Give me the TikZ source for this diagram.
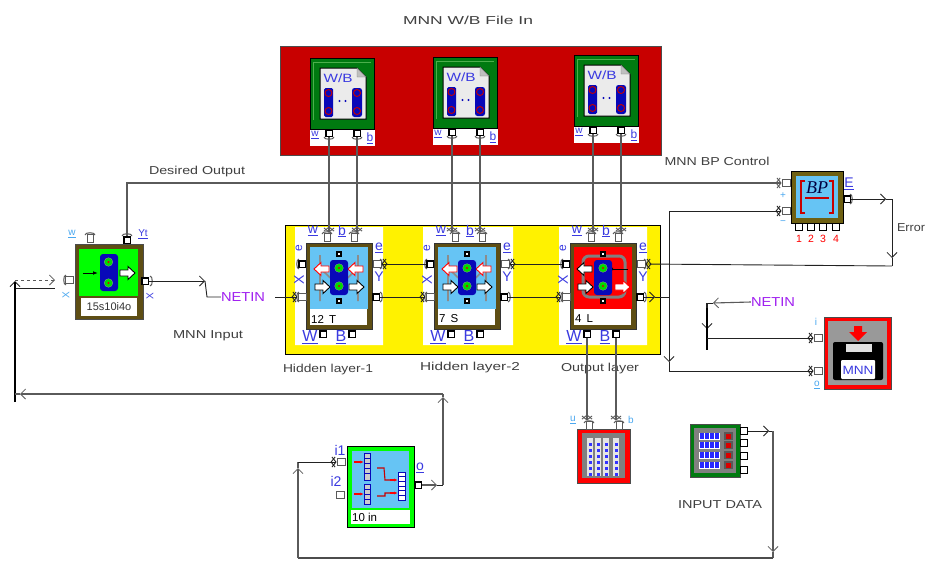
\documentclass[tikz,border=0pt]{standalone}
\usepackage{fontspec}
\setmainfont{Liberation Sans}
\newfontfamily\serifit[ItalicFont=Liberation Serif Italic]{Liberation Serif}
\usetikzlibrary{arrows.meta}
\definecolor{sky}{HTML}{66C4F4}
\definecolor{lab}{HTML}{3A3AE0}
\definecolor{labl}{HTML}{4AA8F0}
\definecolor{olive}{HTML}{5E4E14}
\definecolor{deepblue}{HTML}{0808B8}
\definecolor{crim}{HTML}{C80000}
\definecolor{dgreen}{HTML}{007A10}
\definecolor{wiregrey}{HTML}{5A5A5A}
\definecolor{ink}{HTML}{222222}
\definecolor{netin}{HTML}{A020F0}
\tikzset{
  oport/.style={draw=black,line width=1.5pt,fill=white,minimum size=6.5pt,inner sep=0pt},
  iport/.style={draw=wiregrey,line width=.9pt,fill=white,minimum width=8pt,minimum height=7pt,inner sep=0pt},
  itop/.style={draw=wiregrey,line width=.9pt,fill=white,minimum width=6pt,minimum height=8pt,inner sep=0pt},
  wire/.style={draw=ink,line width=.9pt},
  gwire/.style={draw=wiregrey,line width=1.2pt},
  barb/.style={-{Straight Barb[length=5pt,width=10pt,line width=.8pt]}},
  starb/.style={-{Straight Barb[length=4pt,width=10pt,line width=.9pt,reversed,sep=-4pt]Straight Barb[length=4pt,width=10pt,line width=.9pt]}},
  txt/.style={text=black!75,inner sep=0pt,font=\fontsize{11.5}{12}\selectfont},
  bl/.style={text=lab,inner sep=0pt,font=\fontsize{12}{12}\selectfont},
  blm/.style={text=lab,inner sep=0pt,font=\fontsize{14}{14}\selectfont},
  blb/.style={text=lab,inner sep=0pt,font=\fontsize{16}{16}\selectfont},
  sl/.style={text=labl,inner sep=0pt,font=\fontsize{10}{10}\selectfont},
  rednum/.style={text=red,inner sep=0pt,font=\fontsize{10.5}{11}\selectfont},
  netlabel/.style={text=netin,inner sep=0pt,font=\fontsize{13}{13}\selectfont},
  striptext/.style={text=black,inner sep=0pt,anchor=west,font=\fontsize{11.5}{12}\selectfont},
  capline/.style={draw=black!65,line width=1pt},
}
\newcommand{\lbl}[5]{\node[txt] (#1) at (#2,#3) {\resizebox{#4pt}{\height}{#5}};}
\newcommand{\fatarrow}[4]{%
  \begin{scope}[shift={(#1,#2)},xscale=#3]
  \filldraw[fill=white,draw=#4,line width=.9pt] (-8,0)--(-1,-6.5)--(-1,-3)--(7,-3)--(7,3)--(-1,3)--(-1,6.5)--cycle;
  \end{scope}}
\newcommand{\dotc}[2]{\fill[green!85!black,draw=black!40,line width=.3pt] (#1,#2) circle (4.3);\fill[red!85!black] (#1,#2) circle (1.2);}
\newcommand{\tinybox}[2]{\filldraw[draw=black,line width=1.1pt,fill=white] (#1-2,#2-2) rectangle (#1+2,#2+2);}
\newcommand{\capup}[2]{\draw[capline] (#1-5,#2+1) .. controls (#1-5,#2-2) and (#1+5,#2-2) .. (#1+5,#2+1);}
\newcommand{\capdown}[2]{\draw[capline] (#1-5,#2-1) .. controls (#1-5,#2+2) and (#1+5,#2+2) .. (#1+5,#2-1);}
\newcommand{\capleft}[2]{\draw[capline] (#1+1,#2-5) .. controls (#1-2,#2-5) and (#1-2,#2+5) .. (#1+1,#2+5);}
\newcommand{\capright}[2]{\draw[capline] (#1-1,#2-5) .. controls (#1+2,#2-5) and (#1+2,#2+5) .. (#1-1,#2+5);}
% hidden-layer block: prefix, x, y, text, inner colour
\newcommand{\hblock}[6]{%
  \begin{scope}[shift={(#2,#3)},name prefix=#1-]
  \filldraw[draw=black!80,fill=olive,line width=.8pt] (0,0) rectangle (66,86);
  \fill[white] (4,66) rectangle (61,82);
  \fill[#5] (4,4) rectangle (62,66);
  #6
  \fill[deepblue,rounded corners=3pt] (24,17) rectangle (42,52);
  \tinybox{33}{11}\tinybox{33}{58}
  \dotc{33}{25}\dotc{33}{43}
  \node[striptext] (name) at (5,76) {#4};
  \node[oport] (lu) at (-4,21) {};
  \node[iport] (ll) at (-4,54) {};
  \node[iport] (ru) at (71,21) {};
  \node[oport] (rl) at (70,54) {};
  \node[itop] (t1) at (21,-6) {};
  \node[itop] (t2) at (48,-6) {};
  \node[oport] (b1) at (17,91) {};
  \node[oport] (b2) at (46,91) {};
  \capup{21}{-10}\capup{48}{-10}\capleft{-8}{21}\capleft{-8}{54}\capright{75}{21}\capright{75}{54}
  \node[bl,rotate=90] (ls) at (-7,5) {e};
  \node[blm,rotate=90] (lx) at (-7,37) {X};
  \node[blm] (le) at (73,5) {\underline{e}};
  \node[blm] (ly) at (73,34) {Y};
  \node[blm] (lw) at (7,-12) {\underline{w}};
  \node[blm] (lb) at (36,-12) {\underline{b}};
  \node[blb] (lW) at (4,94) {\underline{W}};
  \node[blb] (lB) at (35,94) {\underline{B}};
  \end{scope}}
\newcommand{\hgrey}{\draw[black!45,line width=1.8pt] (14,12)--(14,58) (52,12)--(52,58) (14,25)--(33,43) (52,25)--(33,43);
  \fatarrow{16}{26}{1}{red}\fatarrow{50}{26}{1}{red}\fatarrow{16}{44}{-1}{black}\fatarrow{50}{44}{-1}{black}}
\newcommand{\hgreyb}{\draw[black!50,line width=3pt,rounded corners=6pt] (13,13) rectangle (55,54);
  \fatarrow{15}{26}{1}{black}\fatarrow{15}{44}{-1}{black}\fatarrow{52}{44}{-1}{red}
  \draw[black,line width=1pt,-{Latex[length=4pt]}] (58,26)--(39,26);}
% W/B file icon
\newcommand{\wbicon}[3]{%
  \begin{scope}[shift={(#2,#3)},name prefix=#1-]
  \fill[white] (0,71) rectangle (65,88);
  \filldraw[draw=black,line width=.9pt,fill=dgreen] (0,0) rectangle (64,71);
  \draw[green!55!black!70,line width=1pt] (3,62)--(3,4)--(61,4);
  \filldraw[draw=black,line width=1pt,fill=black!8] (10,10)--(47,10)--(56,19)--(56,61)--(10,61)--cycle;
  \filldraw[draw=black!50,fill=black!25,line width=.4pt] (47,10)--(47,19)--(56,19)--cycle;
  \node[inner sep=0pt,text=lab,font=\fontsize{12}{12}\selectfont] (t) at (28,20) {\resizebox{29pt}{\height}{W/B}};
  \fill[deepblue,rounded corners=1.5pt] (14,30) rectangle (23,59);
  \fill[deepblue,rounded corners=2.5pt] (42,30) rectangle (52,59);
  \foreach \px in {18.5,47}{\foreach \py in {35,53}{\draw[crim,line width=.9pt] (\px,\py) circle (3.5);}}
  \fill[deepblue] (29.5,43) circle (1.1) (35.5,43) circle (1.1);
  \node[oport] (pa) at (19,75) {};
  \node[oport] (pb) at (47,75) {};
  \capdown{19}{80}\capdown{47}{80}
  \node[sl,text=lab] (la) at (5,77) {\underline{w}};
  \node[sl,text=lab,font=\fontsize{12}{12}\selectfont] (lc) at (60,80) {\underline{b}};
  \end{scope}}
\begin{document}
\begin{tikzpicture}[x=1pt,y=-1pt]
\useasboundingbox (0,0) rectangle (925,560);
\fill[white] (0,0) rectangle (925,560);
% panels
\filldraw[draw=black!70,fill=crim,line width=.9pt] (280,46) rectangle (661,155);
\filldraw[draw=black,fill=yellow,line width=.9pt] (285,225) rectangle (660,354);
\fill[white] (295,227) rectangle (383,345) (423,227) rectangle (513,345) (559,227) rectangle (647,345);
% labels
\lbl{title}{468}{20}{130}{MNN W/B File In}
\lbl{bpcap}{717}{161}{105}{MNN BP Control}
\lbl{desired}{197}{172}{96}{Desired Output}
\lbl{mnninput}{208}{336}{70}{MNN Input}
\lbl{hid1}{328}{370}{90}{Hidden layer-1}
\lbl{hid2}{470}{368}{100}{Hidden layer-2}
\lbl{outl}{600}{369}{78}{Output layer}
\lbl{indata}{720}{505}{84}{INPUT DATA}
\lbl{err}{911}{228}{28}{Error}
% W/B icons
\wbicon{wa}{310}{58}
\wbicon{wb}{433}{57}
\wbicon{wc}{574}{55}
% hidden blocks
\hblock{ha}{306}{243}{12\, T}{sky}{\hgrey}
\hblock{hb}{434}{243}{7\, S}{sky}{\hgrey}
\hblock{hc}{570}{243}{4\, L}{red}{\hgreyb}
% input block
\begin{scope}[shift={(75,244)},name prefix=in-]
\filldraw[draw=black!70,fill=olive,line width=.8pt] (0,0) rectangle (68,75);
\fill[green] (4,5) rectangle (63,52);
\fill[white] (6,54) rectangle (62,72);
\fill[deepblue,rounded corners=3pt] (25,10) rectangle (43,47);
\dotc{33.5}{18}\dotc{33.5}{39}
\draw[black,line width=1pt,-{Latex[length=5pt]}] (8,29)--(23,29);
\fatarrow{52}{29}{-1}{black}
\node[inner sep=0pt,text=black!80,font=\fontsize{11}{11}\selectfont] (name) at (34,63) {15s10i4o};
\node[iport] (l) at (-6,36) {};
\node[oport] (r) at (70,37) {};
\node[itop] (t1) at (15,-6) {};
\node[oport] (t2) at (52,-4) {};
\capup{15}{-10}\capup{52}{-9}\capleft{-10}{36}\capright{76}{37}
\node[sl] (lw) at (-3,-10) {\underline{w}};
\node[sl,text=lab] (ly) at (68,-10) {\underline{Yt}};
\node[sl,rotate=90] (lx) at (-9,51) {X};
\node[sl,text=lab,rotate=90] (lxx) at (75,52) {X};
\end{scope}
% BP control
\begin{scope}[shift={(791,171)},name prefix=bp-]
\filldraw[draw=black,fill=olive!90!yellow,line width=.8pt] (0,0) rectangle (52,52);
\fill[sky] (5,5) rectangle (47,47);
\draw[crim,line width=1.1pt] (14,10)--(10,10)--(10,42)--(14,42) (38,10)--(42,10)--(42,42)--(38,42);
\node[inner sep=0pt,text=black!75!blue,font=\serifit\itshape\fontsize{18}{18}\selectfont] (name) at (26,17) {BP};
\draw[crim,line width=1.2pt] (14,27)--(38,27);
\node[iport] (p) at (-5,12) {};
\node[iport] (m) at (-5,40) {};
\node[oport] (e) at (56,28) {};
\capright{60}{28}
\node[oport,line width=1.1pt] (n1) at (8,56) {};
\node[oport,line width=1.1pt] (n2) at (20,56) {};
\node[oport,line width=1.1pt] (n3) at (32,56) {};
\node[oport,line width=1.1pt] (n4) at (45,56) {};
\node[rednum] (l1) at (8,68) {1};
\node[rednum] (l2) at (20,68) {2};
\node[rednum] (l3) at (32,68) {3};
\node[rednum] (l4) at (45,68) {4};
\node[sl] (lp) at (-8,25) {+};
\node[sl] (lm) at (-8,52) {−};
\node[blm] (le) at (58,13) {\underline{E}};
\end{scope}
% MNN save
\begin{scope}[shift={(824,317)},name prefix=sv-]
\filldraw[draw=black!70,fill=red,line width=.7pt] (0,0) rectangle (67,72);
\fill[black!40] (4,4) rectangle (63,68);
\fill[black,rounded corners=2pt] (9,25) rectangle (59,63);
\fill[black!12] (22,27) rectangle (48,35);
\fill[white,rounded corners=1pt] (17,43) rectangle (51,62);
\fill[red] (30,9) rectangle (38,15) (25,15)--(43,15)--(34,24)--cycle;
\node[inner sep=0pt,text=lab,font=\fontsize{12}{12}\selectfont] (name) at (34,53) {\resizebox{31pt}{\height}{MNN}};
\node[iport] (i) at (-6,21) {};
\node[iport] (o) at (-6,54) {};
\node[sl] (li) at (-8,5) {i};
\node[sl] (lo) at (-7,68) {\underline{o}};
\end{scope}
% 10 in block
\begin{scope}[shift={(347,446)},name prefix=ti-]
\filldraw[draw=black,fill=green,line width=.8pt] (0,0) rectangle (67,81);
\fill[sky] (5,5) rectangle (62,62);
\fill[white] (4,64) rectangle (63,78);
\draw[crim,line width=1.1pt] (30,22)--(37,22)--(38,34)--(46,34) (30,50)--(38,50)--(38,47)--(47,47);
\foreach \ya/\yb in {7/34,38/58}{\filldraw[draw=deepblue,fill=black!20,line width=1pt] (17,\ya) rectangle (23,\yb);
  \foreach \k in {1,2,3,4}{\draw[deepblue,line width=.7pt] (17,\ya+\k*5)--(23,\ya+\k*5);}}
\filldraw[draw=deepblue,fill=white,line width=1pt] (51,26) rectangle (58,54);
\foreach \k in {1,...,5}{\draw[deepblue,line width=.8pt] (51,26+\k*4.7)--(58,26+\k*4.7);}
\draw[red,line width=1.2pt,-{Latex[length=4pt]}] (7,16)--(17,16);
\draw[red,line width=1.2pt,-{Latex[length=4pt]}] (7,48)--(17,48);
\draw[red,line width=1.2pt,-{Latex[length=4pt]}] (43,34)--(51,34);
\draw[red,line width=1.2pt,-{Latex[length=4pt]}] (43,47)--(51,47);
\node[striptext] (name) at (5,71) {10 in};
\node[iport] (a) at (-6,16) {};
\node[iport] (c) at (-7,49) {};
\node[oport] (o) at (71,39) {};
\node[blm] (la) at (-7,4) {i1};
\node[blm] (lc) at (-11,35) {i2};
\node[blm] (lo) at (73,22) {\underline{o}};
\end{scope}
% weight bank
\begin{scope}[shift={(577,429)},name prefix=wk-]
\filldraw[draw=black!70,fill=red,line width=.8pt] (0,0) rectangle (53,54);
\fill[black!50] (5,4) rectangle (48,49);
\foreach \cx in {13,21,29,39}{\fill[black!10] (\cx-3.2,9) rectangle (\cx+3.2,47);
  \foreach \cy in {14,20,...,44}{\fill[blue!80] (\cx-1,\cy) rectangle (\cx+1.5,\cy+2.5);}}
\node[itop] (a) at (12,-4) {};
\node[itop] (b) at (42,-4) {};
\capup{12}{-7}\capup{42}{-7}
\node[sl] (la) at (-4,-9) {\underline{u}};
\node[sl] (lb) at (54,-9) {b};
\end{scope}
% input data
\begin{scope}[shift={(690,424)},name prefix=dt-]
\filldraw[draw=black!70,fill=dgreen,line width=.8pt] (0,0) rectangle (50,53);
\fill[black!50] (4,4) rectangle (46,49);
\foreach \ry in {12,21,31,41}{
  \fill[white] (9,\ry-3.5) rectangle (30,\ry+3.5);
  \foreach \k in {0,1,2,3}{\fill[blue!85] (10+\k*5,\ry-3) rectangle (13.5+\k*5,\ry+3);}
  \fill[black!65] (34,\ry-4) rectangle (43,\ry+4);
  \fill[red!85!black] (36,\ry-2.5) rectangle (41,\ry+2.5);}
\node[oport,line width=1.2pt] (p1) at (54,7) {};
\node[oport,line width=1.2pt] (p2) at (54,19) {};
\node[oport,line width=1.2pt] (p3) at (54,32) {};
\node[oport,line width=1.2pt] (p4) at (54,46) {};
\end{scope}
% NET labels
\node[netlabel] (net1) at (243,297) {\resizebox{44pt}{\height}{NETIN}};
\node[netlabel] (net2) at (773,302) {\resizebox{44pt}{\height}{NETIN}};
% free coordinates
\coordinate (c1) at (127,183);
\coordinate (c2) at (205,281);
\coordinate (c3) at (207,297);
\coordinate (c5) at (669,211);
\coordinate (c6) at (669,297);
\coordinate (c7) at (669,371);
\coordinate (c8) at (892,199);
\coordinate (c9) at (892,266);
\coordinate (d1) at (707,303);
\coordinate (d2) at (707,338);
\coordinate (d3) at (707,350);
\coordinate (e1) at (15,280);
\coordinate (e2) at (55,280);
\coordinate (e3) at (15,402);
\coordinate (e4) at (15,394);
\coordinate (e5) at (443,394);
\coordinate (e6) at (443,485);
\coordinate (e7) at (55,288);
\coordinate (e8) at (15,288);
\coordinate (f1) at (298,558);
\coordinate (f2) at (298,462);
\coordinate (f3) at (773,558);
\coordinate (f4) at (773,431);
% W/B wires
\foreach \i/\t in {wa-pa/ha-t1,wa-pb/ha-t2,wb-pa/hb-t1,wb-pb/hb-t2,wc-pa/hc-t1,wc-pb/hc-t2}{
  \draw[gwire,starb] (\i.south) -- (\i.south |- \t.north);}
\draw[gwire,starb] (hc-b1.south) -- (hc-b1.south |- wk-a.north);
\draw[gwire,starb] (hc-b2.south) -- (hc-b2.south |- wk-b.north);
% between blocks
\draw[wire,starb] (hb-lu.west) -- (ha-ru.east);
\draw[wire,starb] (ha-rl.east) -- (hb-ll.west);
\draw[wire,starb] (hc-lu.west) -- (hb-ru.east);
\draw[wire,starb] (hb-rl.east) -- (hc-ll.west);
% desired output
\draw[gwire] (in-t2.north) -- (c1) -- (700,183);
\draw[gwire,starb] (700,183) -- (bp-p.west);
% MNN input
\draw[wire,barb] (in-r.east) -- (c2);
\draw[wire] (c2) -- (c3) -- (net1.west);
\draw[wire,starb] (275,297) -- (ha-ll.west);
% error
\draw[wire,barb] (bp-e.east) -- (886,199);
\draw[wire] (886,199) -- (c8);
\draw[wire,barb] (c8) -- (892,258);
\draw[wire] (892,258) -- (c9);
\draw[wire,starb] (c9) -- (hc-ru.east);
% bp minus / mnn output
\draw[wire,starb] (c5) -- (bp-m.west);
\draw[wire,barb] (hc-rl.east) -- (655,297);
\draw[wire] (655,297) -- (c6);
\draw[wire] (c5) -- (c6);
\draw[wire,barb] (c6) -- (669,362);
\draw[wire] (669,362) -- (c7);
\draw[wire,starb] (c7) -- (sv-o.west);
% net to save
\draw[wiregrey,line width=1.1pt,barb] (net2.west) -- (713,303);
\draw[wire] (713,303) -- (d1);
\draw[wire,line width=1.1pt,barb] (d1) -- (707,329);
\draw[black,line width=1.6pt] (707,308) -- (d3);
\draw[wire,starb] (d2) -- (sv-i.west);
% left loop
\draw[wiregrey,line width=1pt,dashed,barb] (e1) -- (e2);
\draw[wire] (e8) -- (e7);
\draw[black,line width=1.6pt,barb] (e3) -- (15,281);
\draw[gwire,barb] (e5) -- (20,394);
\draw[gwire] (20,394) -- (e4);
\draw[gwire,barb] (e6) -- (443,397);
\draw[gwire] (443,397) -- (e5);
\draw[wiregrey,line width=1.2pt,barb] (ti-o.east) -- (437,485);
\draw[wire] (437,485) -- (e6);
% bottom loop
\draw[wire,barb] (dt-p1.east) -- (769,431);
\draw[wire] (769,431) -- (f4);
\draw[gwire,barb] (f4) -- (773,552);
\draw[gwire] (773,552) -- (f3);
\draw[black!70,line width=1.3pt] (f3) -- (f1);
\draw[gwire,barb] (f1) -- (298,468);
\draw[gwire] (298,468) -- (f2);
\draw[wire,starb] (f2) -- (ti-a.west);
\end{tikzpicture}
\end{document}
